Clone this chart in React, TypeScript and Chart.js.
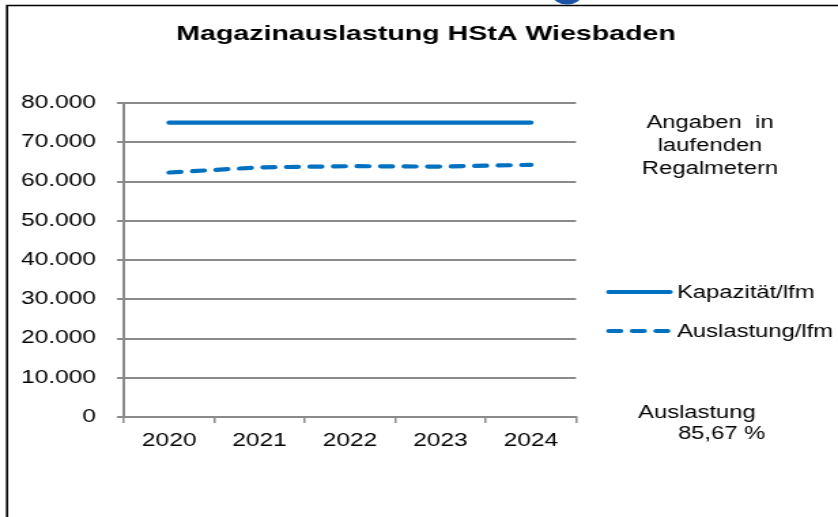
import React, { useEffect, useRef } from "react";
import { Chart, registerables } from "chart.js";

Chart.register(...registerables);

const YEARS = ["2020", "2021", "2022", "2023", "2024"];
const KAPAZITAET = [75000, 75000, 75000, 75000, 75000];
const AUSLASTUNG = [62300, 63600, 63900, 63800, 64250];
const SERIES_NAMES = ["Kapazität/lfm", "Auslastung/lfm"];
const Y_MIN = 0;
const Y_MAX = 80000;
const Y_STEP = 10000;
const TITLE = "Magazinauslastung HStA Wiesbaden";
const NOTE_LINES = ["Angaben  in", "laufenden", "Regalmetern"];
const RATIO_LINES = ["Auslastung", "85,67 %"];

const FULL_W = 838;
const FULL_H = 517;
const SX = 1.3604; // horizontal stretch of the reference
const W = Math.round(FULL_W / SX);
const FONT = '"Liberation Sans", Arial, sans-serif';
const BLUE = "#0070C0";
const GRID = "#8a8a8a";

const fmt = (v: number) => String(v).replace(/\B(?=(\d{3})+(?!\d))/g, ".");
const ix = (x: number) => x / SX;

const overlay = {
  id: "overlay",
  afterDraw(chart: any) {
    const ctx = chart.ctx;
    ctx.save();
    // frame
    ctx.strokeStyle = "#000";
    ctx.lineWidth = 1.6;
    ctx.beginPath();
    ctx.moveTo(ix(7), FULL_H);
    ctx.lineTo(ix(7), 5.5);
    ctx.lineTo(W, 5.5);
    ctx.stroke();
    // blob at top
    ctx.fillStyle = "#1a53a6";
    ctx.beginPath();
    ctx.ellipse(ix(567), -6, ix(15), 10.5, 0, 0, Math.PI * 2);
    ctx.fill();
    // title
    ctx.fillStyle = "#000";
    ctx.font = `bold 21px ${FONT}`;
    ctx.textAlign = "center";
    ctx.textBaseline = "middle";
    ctx.fillText(TITLE, ix(426), 34);
    // note
    ctx.font = `17.5px ${FONT}`;
    NOTE_LINES.forEach((t, i) => ctx.fillText(t, ix(710), 123 + i * 23));
    // legend
    const ds = chart.data.datasets;
    const ly = [292, 331];
    ds.forEach((d: any, i: number) => {
      ctx.strokeStyle = d.borderColor;
      ctx.lineWidth = d.borderWidth;
      ctx.lineCap = "round";
      ctx.setLineDash(d.borderDash || []);
      ctx.beginPath();
      ctx.moveTo(ix(609), ly[i]);
      ctx.lineTo(ix(i === 0 ? 670 : 668), ly[i]);
      ctx.stroke();
      ctx.setLineDash([]);
      ctx.fillStyle = "#000";
      ctx.textAlign = "left";
      ctx.fillText(d.label, ix(677), ly[i] + 1);
    });
    // ratio
    ctx.textAlign = "left";
    ctx.fillText(RATIO_LINES[0], ix(638), 413);
    ctx.fillText(RATIO_LINES[1], ix(678), 434);
    ctx.restore();
  },
};

export default function App() {
  const ref = useRef<HTMLCanvasElement>(null);
  useEffect(() => {
    document.body.style.margin = "0";
    const chart = new Chart(ref.current!, {
      type: "line",
      data: {
        labels: YEARS,
        datasets: [
          {
            label: SERIES_NAMES[0],
            data: KAPAZITAET,
            borderColor: BLUE,
            borderWidth: 4.2,
            borderCapStyle: "round",
            pointRadius: 0,
            fill: false,
            tension: 0,
          },
          {
            label: SERIES_NAMES[1],
            data: AUSLASTUNG,
            borderColor: BLUE,
            borderWidth: 4.2,
            borderDash: [8.5, 8.8],
            borderCapStyle: "round",
            pointRadius: 0,
            fill: false,
            tension: 0,
          },
        ],
      },
      options: {
        responsive: false,
        animation: false,
        devicePixelRatio: 1,
        layout: { padding: { left: 0, top: 103, right: W - ix(576), bottom: 0 } },
        plugins: {
          legend: { display: false },
          title: { display: false },
          tooltip: { enabled: false },
        },
        scales: {
          x: {
            offset: true,
            grid: {
              offset: true,
              drawOnChartArea: false,
              drawTicks: true,
              tickLength: 6,
              color: GRID,
              lineWidth: 1.5,
            },
            border: { display: true, color: GRID, width: 2 },
            ticks: {
              color: "#000",
              font: { family: FONT, size: 18 },
              padding: 7,
              maxRotation: 0,
            },
            afterFit: (s: any) => {
              s.height = FULL_H - 417;
            },
          },
          y: {
            min: Y_MIN,
            max: Y_MAX,
            grid: { color: GRID, lineWidth: 2, tickLength: ix(7) },
            border: { display: true, color: GRID, width: 2 },
            ticks: {
              stepSize: Y_STEP,
              color: "#000",
              font: { family: FONT, size: 18 },
              padding: ix(124) - ix(7) - ix(96),
              callback: (v: any) => fmt(Number(v)),
            },
            afterFit: (s: any) => {
              s.width = ix(124);
            },
          },
        },
      },
      plugins: [overlay],
    });
    return () => chart.destroy();
  }, []);
  return (
    <div
      style={{
        position: "absolute",
        left: 0,
        top: 0,
        width: FULL_W,
        height: FULL_H,
        overflow: "hidden",
        background: "#fff",
      }}
    >
      <canvas
        ref={ref}
        width={W}
        height={FULL_H}
        style={{
          display: "block",
          width: W + "px",
          height: FULL_H + "px",
          transform: `scaleX(${FULL_W / W})`,
          transformOrigin: "0 0",
        }}
      />
    </div>
  );
}
